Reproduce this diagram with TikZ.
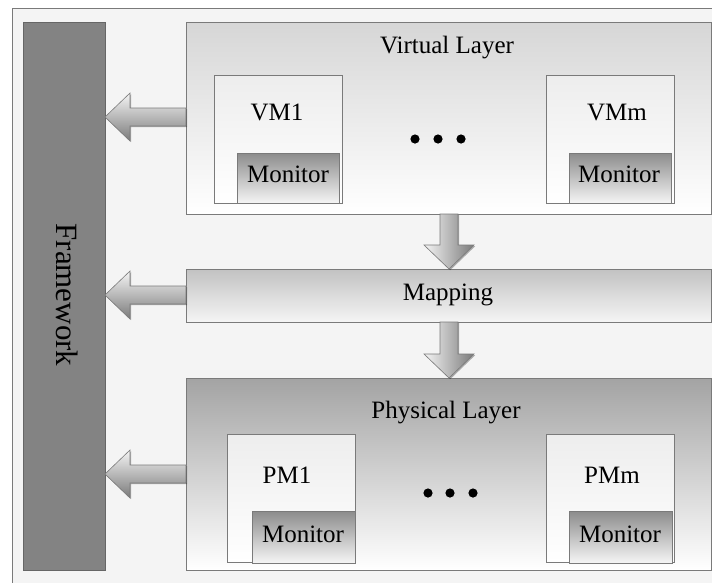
\documentclass[tikz,border=0pt]{standalone}
\usepackage{fontspec}
\setmainfont{Liberation Serif}
\usetikzlibrary{calc,shadows}
\definecolor{edge}{HTML}{7A7A7A}
\definecolor{framefill}{HTML}{838383}
\definecolor{paper}{HTML}{F4F4F4}
\begin{document}
\begin{tikzpicture}[x=1pt,y=-1pt,
  soft/.style={drop shadow={shadow xshift=1.2pt, shadow yshift=-1.2pt, opacity=0.3, fill=black}},
  box/.style={draw=edge, line width=0.8pt, anchor=north west, inner sep=0pt, outer sep=0pt},
  layer/.style={box, minimum width=525pt, minimum height=192pt},
  machine/.style={box, minimum width=128pt, minimum height=128pt,
    top color=white!93!black, bottom color=white},
  monitor/.style={box, soft, minimum width=102pt, minimum height=50pt,
    top color=white!55!black, bottom color=white!96!black},
  txt/.style={anchor=base, inner sep=0pt, font=\fontsize{25}{30}\selectfont},
  arrowL/.style={draw=edge, line width=0.6pt, soft, top color=white!96!black, bottom color=white!48!black},
  arrowD/.style={draw=edge, line width=0.6pt, soft, left color=white!96!black, right color=white!48!black},
  dot/.style={fill=black, draw=none}
]
\useasboundingbox (0,0) rectangle (712,582);
\clip (0,0) rectangle (712,582);

% outer frame
\draw[draw=edge, fill=paper, line width=0.8pt] (12,8) rectangle (730,600);

% framework bar
\node[box, soft, draw=white!40!black, fill=framefill, minimum width=82pt, minimum height=548pt] (fw) at (23,22) {};
\node[rotate=-90, inner sep=0pt, font=\fontsize{31}{36}\selectfont] (fwlabel) at (67,295) {Framework};

% virtual layer
\node[layer, top color=white!84!black, bottom color=white] (vl) at (186,22) {};
\node[txt] (vllabel) at (447,53) {Virtual Layer};
\node[machine] (vm1) at (214,75) {};
\node[txt] (vm1label) at (277,120) {VM1};
\node[monitor] (mon1) at (237,153) {};
\node[txt] (mon1label) at (288,182) {Monitor};
\node[machine] (vmm) at (546,75) {};
\node[txt] (vmmlabel) at (617,120) {VMm};
\node[monitor] (monm) at (569,153) {};
\node[txt] (monmlabel) at (619,182) {Monitor};
\foreach \x in {415,438,461}
  \fill[dot] (\x,139) circle (4.6pt);

% mapping
\node[box, minimum width=525pt, minimum height=53pt, top color=white!76!black, bottom color=white!96!black] (map) at (186,269) {};
\node[txt] (maplabel) at (448,300) {Mapping};

% physical layer
\node[layer, top color=white!64!black, bottom color=white] (pl) at (186,378) {};
\node[txt] (pllabel) at (446,418) {Physical Layer};
\node[machine] (pm1) at (227,434) {};
\node[txt] (pm1label) at (287,483) {PM1};
\node[monitor, minimum height=52pt, minimum width=103pt] (pmon1) at (252,511) {};
\node[txt] (pmon1label) at (303,542) {Monitor};
\node[machine] (pmm) at (546,434) {};
\node[txt] (pmmlabel) at (612,483) {PMm};
\node[monitor, minimum height=52pt, minimum width=103pt] (pmonm) at (569,511) {};
\node[txt] (pmonmlabel) at (620,542) {Monitor};
\foreach \x in {428,450,473}
  \fill[dot] (\x,493) circle (4.6pt);

% block arrows from each layer to the framework
\foreach \src/\y in {vl/117,map/295,pl/474}{
  \coordinate (tip) at (fw.east |- 0,\y);
  \coordinate (tail) at (\src.west |- 0,\y);
  \draw[arrowL] (tip) -- ($(tip)+(25,-24)$) -- ($(tip)+(25,-9)$) -- ($(tail)+(0,-9)$)
    -- ($(tail)+(0,9)$) -- ($(tip)+(25,9)$) -- ($(tip)+(25,24)$) -- cycle;
}

% block arrows down the stack
\foreach \a/\b in {vl/map,map/pl}{
  \coordinate (top) at (449,0 |- \a.south);
  \coordinate (bot) at (449,0 |- \b.north);
  \draw[arrowD] (bot) -- ($(bot)+(-25,-24)$) -- ($(bot)+(-9,-24)$) -- ($(top)+(-9,0)$)
    -- ($(top)+(9,0)$) -- ($(bot)+(9,-24)$) -- ($(bot)+(25,-24)$) -- cycle;
}
\end{tikzpicture}
\end{document}
